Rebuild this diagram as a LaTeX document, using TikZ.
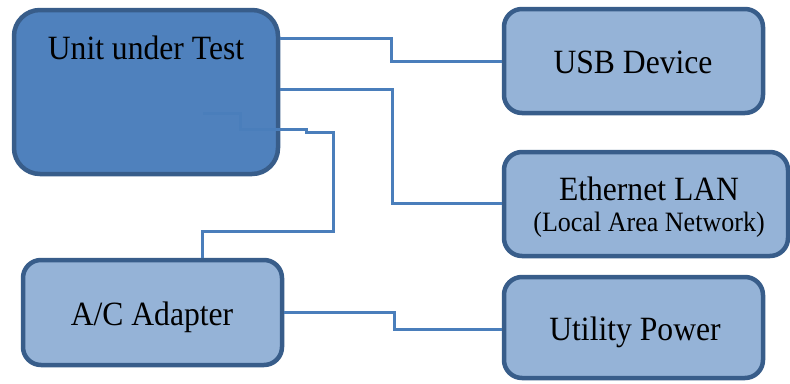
\documentclass[tikz,border=0pt]{standalone}
\usepackage{fontspec}
\setmainfont{Liberation Serif}[FakeStretch=0.93]
\definecolor{uutfill}{HTML}{4F81BD}
\definecolor{boxfill}{HTML}{95B3D7}
\definecolor{boxedge}{HTML}{385D8A}
\definecolor{wire}{HTML}{4A7EBB}
\begin{document}
\begin{tikzpicture}[x=1pt,y=-1pt,
  box/.style={draw=boxedge, line width=4.5pt, fill=boxfill, rounded corners=18pt, inner sep=0pt},
  bigbox/.style={box, fill=uutfill, rounded corners=26pt},
  lbl/.style={anchor=base, inner sep=0pt, font=\fontsize{34}{38}\selectfont},
  small/.style={anchor=base, inner sep=0pt, font=\fontsize{28}{32}\selectfont},
  wirel/.style={draw=wire, line width=3pt}]
\useasboundingbox (0,0) rectangle (790,383);
% boxes
\node[bigbox, minimum width=264pt, minimum height=164pt] (uut) at (146,92) {};
\node[box, minimum width=259pt, minimum height=104pt] (usb) at (633.5,61) {};
\node[box, minimum width=284pt, minimum height=104pt] (eth) at (646,204) {};
\node[box, minimum width=259pt, minimum height=105pt] (ac) at (152.5,312.5) {};
\node[box, minimum width=259pt, minimum height=101pt] (util) at (633.5,327.5) {};
% texts
\node[lbl] (tuut) at (146,59) {Unit under Test};
\node[lbl] (tusb) at (633,73) {USB Device};
\node[lbl] (teth) at (649,200) {Ethernet LAN};
\node[small] (teth2) at (649,231) {(Local Area Network)};
\node[lbl] (tac) at (152,325) {A/C Adapter};
\node[lbl] (tutil) at (635,340) {Utility Power};
% wire coordinates
\coordinate (u1) at (280,38);
\coordinate (u2) at (391,38);
\coordinate (u3) at (391,61);
\coordinate (e1) at (280,89);
\coordinate (e2) at (392,89);
\coordinate (e3) at (392,203);
\coordinate (p0) at (203,113);
\coordinate (p1) at (240,113);
\coordinate (p2) at (240,129);
\coordinate (p3) at (306,129);
\coordinate (p4) at (306,132);
\coordinate (p5) at (333,132);
\coordinate (p6) at (333,231);
\coordinate (p7) at (202,231);
\coordinate (a1) at (394,312);
\coordinate (a2) at (394,329);
% wires
\draw[wirel] (uut.east |- u1) -- (u2) -- (u3) -- (usb.west |- u3);
\draw[wirel] (uut.east |- e1) -- (e2) -- (e3) -- (eth.west |- e3);
\draw[wirel] (p0) -- (p1) -- (p2) -- (p3) -- (p4) -- (p5) -- (p6) -- (p7) -- (p7 |- ac.north);
\draw[wirel] (ac.east |- a1) -- (a1) -- (a2) -- (util.west |- a2);
\end{tikzpicture}
\end{document}
